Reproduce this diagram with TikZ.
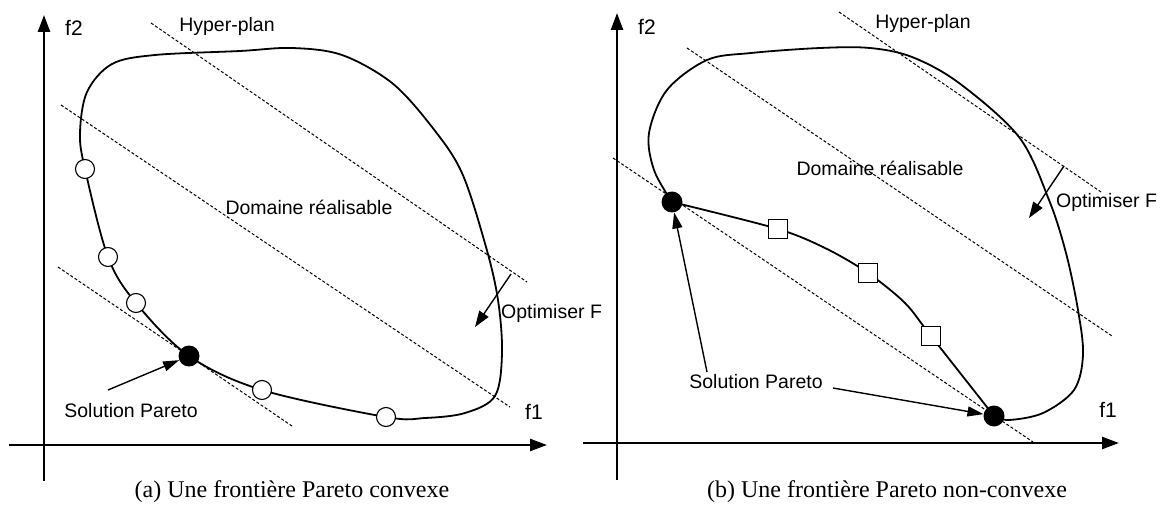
\documentclass[tikz,border=0pt]{standalone}
\usepackage{fontspec}
\setmainfont{Liberation Sans}
\newfontfamily\capfont{Liberation Serif}
\usetikzlibrary{arrows.meta, positioning}

\begin{document}
\begin{tikzpicture}[x=1pt, y=-1pt,
  axis/.style={line width=2.4pt, -{Triangle[length=17pt, width=12pt]}},
  frontier/.style={line width=1.8pt},
  hyper/.style={line width=1pt, dash pattern=on 3pt off 2pt},
  pointer/.style={line width=1.4pt, -{Triangle[length=16pt, width=10pt]}},
  opensol/.style={circle, draw, fill=white, line width=1.1pt, minimum size=19pt, inner sep=0pt},
  paretosol/.style={circle, fill=black, minimum size=21pt, inner sep=0pt},
  squaresol/.style={rectangle, draw, fill=white, line width=1.1pt, minimum size=19pt, inner sep=0pt},
  lbl/.style={inner sep=0pt, font=\fontsize{19.5}{22}\selectfont},
  axlbl/.style={inner sep=0pt, font=\fontsize{21}{24}\selectfont},
  subcap/.style={inner sep=0pt, font=\capfont\fontsize{24}{27}\selectfont}]
  \useasboundingbox (0,0) rectangle (1168,505);
  % (a) convex front
  \begin{scope}
    \coordinate (yA0) at (44,481);  \coordinate (yA1) at (44,15);
    \coordinate (xA0) at (9,445);   \coordinate (xA1) at (547,445);
    \draw[axis] (yA0) -- (yA1);
    \draw[axis] (xA0) -- (xA1);
    \node[axlbl] (f2A) at (74,28) {f2};
    \node[axlbl] (f1A) at (534,412) {f1};
    % hyperplanes
    \coordinate (hA1s) at (151,23);  \coordinate (hA1e) at (527,282);
    \coordinate (hA2s) at (61,105);  \coordinate (hA2e) at (510,407);
    \coordinate (hA3s) at (58,267);  \coordinate (hA3e) at (292,426);
    \draw[hyper] (hA1s) -- (hA1e);
    \draw[hyper] (hA2s) -- (hA2e);
    \draw[hyper] (hA3s) -- (hA3e);
    % feasible domain
    \coordinate (pA1) at (85,169);  \coordinate (pA2) at (108,257);
    \coordinate (pA3) at (136,303); \coordinate (pA)  at (189,356);
    \coordinate (pA4) at (262,390); \coordinate (pA5) at (386,417);
    \draw[frontier] plot[smooth cycle, tension=0.55] coordinates {(pA1) (80,133) (87,92) (112,64) (155,55)
      (240,51) (292,48) (342,55) (392,83) (432,127) (462,173) (486,247) (498,300) (502,353) (495,396)
      (465,413) (425,418) (pA5) (pA4) (pA) (pA3) (pA2)};
    \foreach \p in {pA1,pA2,pA3,pA4,pA5}
      \node[opensol] (c\p) at (\p) {};
    \node[paretosol] (dotA) at (pA) {};
    \node[lbl] (hypA) at (227,26) {Hyper-plan};
    \node[lbl] (domA) at (309,207) {Domaine réalisable};
    \node[lbl, anchor=west] (optA) at (501,313) {Optimiser F};
    \coordinate (optAs) at (511,274); \coordinate (optAe) at (475,327);
    \draw[line width=1.4pt, -{Triangle[length=16pt, width=11pt]}] (optAs) -- (optAe);
    \node[lbl] (solA) at (131,411) {Solution Pareto};
    \coordinate (tailA) at (108,390);
    \draw[pointer] (tailA) -- (dotA);
    \node[subcap] (capA) at (292,492) {(a) Une frontière Pareto convexe};
  \end{scope}
  % (b) non-convex front
  \begin{scope}
    \coordinate (yB0) at (617,480);  \coordinate (yB1) at (617,13);
    \coordinate (xB0) at (583,443);  \coordinate (xB1) at (1119,443);
    \draw[axis] (yB0) -- (yB1);
    \draw[axis] (xB0) -- (xB1);
    \node[axlbl] (f2B) at (647,27) {f2};
    \node[axlbl] (f1B) at (1108,410) {f1};
    % hyperplanes
    \coordinate (hB1s) at (839,12);  \coordinate (hB1e) at (1101,192);
    \coordinate (hB2s) at (687,48);  \coordinate (hB2e) at (1112,336);
    \coordinate (hB3s) at (613,158); \coordinate (hB3e) at (1033,442);
    \draw[hyper] (hB1s) -- (hB1e);
    \draw[hyper] (hB2s) -- (hB2e);
    \draw[hyper] (hB3s) -- (hB3e);
    % feasible domain
    \coordinate (pB)  at (672,202); \coordinate (pBB) at (994,416);
    \coordinate (qB1) at (778,229); \coordinate (qB2) at (868,273);
    \coordinate (qB3) at (931,336);
    \draw[frontier] plot[smooth, tension=0.55] coordinates {(pB) (654,170) (649,133) (667,90) (707,60)
      (751,53) (820,48) (870,48) (912,57) (959,83) (1019,137) (1049,200) (1066,253) (1078,310) (1083,355)
      (1074,390) (1043,413) (1009,420) (pBB)};
    \draw[frontier] plot[smooth, tension=0.5] coordinates {(pB) (qB1) (827,249) (qB2) (905,303) (qB3) (pBB)};
    \foreach \q in {qB1,qB2,qB3}
      \node[squaresol] (s\q) at (\q) {};
    \node[paretosol] (dotB1) at (pB) {};
    \node[paretosol] (dotB2) at (pBB) {};
    \node[lbl] (hypB) at (923,23) {Hyper-plan};
    \node[lbl] (domB) at (880,168) {Domaine réalisable};
    \node[lbl, anchor=west] (optB) at (1056,202) {Optimiser F};
    \coordinate (optBs) at (1064,166); \coordinate (optBe) at (1029,218);
    \draw[line width=1.4pt, -{Triangle[length=16pt, width=11pt]}] (optBs) -- (optBe);
    \node[lbl] (solB) at (756,382) {Solution Pareto};
    \coordinate (tailB1) at (707,372); \coordinate (tailB2) at (833,388);
    \draw[pointer] (tailB1) -- (dotB1);
    \draw[pointer] (tailB2) -- (dotB2);
    \node[subcap] (capB) at (887,492) {(b) Une frontière Pareto non-convexe};
  \end{scope}
\end{tikzpicture}
\end{document}
